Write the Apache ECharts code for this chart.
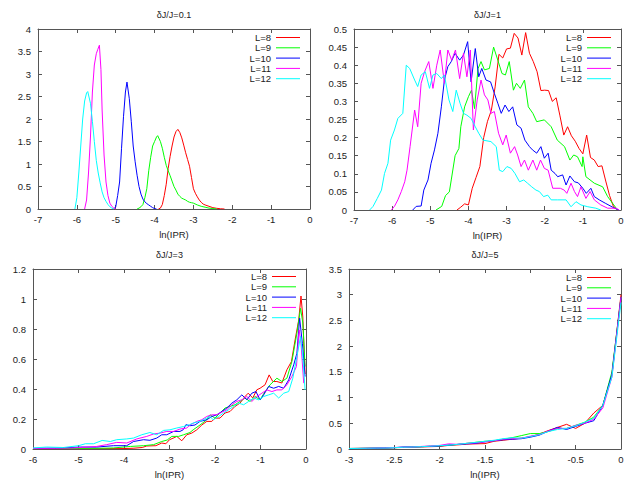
<!DOCTYPE html>
<html>
<head>
<meta charset="utf-8">
<script src="https://cdn.jsdelivr.net/npm/echarts@6.0.0/dist/echarts.min.js"></script>
<style>html,body{margin:0;padding:0;background:#fff}#c{width:636px;height:481px}</style>
</head>
<body>
<div id="c"></div>
<script>
// ---------- data ----------
const seriesNames = ['L=8', 'L=9', 'L=10', 'L=11', 'L=12'];
const panelTitles = ['δJ/J=0.1', 'δJ/J=1', 'δJ/J=3', 'δJ/J=5'];
const xAxisName = 'ln(IPR)';

// Panel 1: dJ/J = 0.1
const p1_L8 = [[-3.9,0],[-3.85,0.02],[-3.8,0.1],[-3.75,0.3],[-3.7,0.55],[-3.65,0.9],[-3.6,1.17],[-3.55,1.4],[-3.5,1.6],[-3.45,1.72],[-3.4,1.77],[-3.35,1.7],[-3.3,1.58],[-3.25,1.42],[-3.2,1.25],[-3.15,1.1],[-3.1,0.95],[-3.05,0.7],[-3.0,0.45],[-2.95,0.35],[-2.9,0.27],[-2.85,0.2],[-2.8,0.15],[-2.75,0.11],[-2.7,0.09],[-2.6,0.06],[-2.5,0.03],[-2.4,0.015],[-2.3,0.005],[-2.2,0]];
const p1_L9 = [[-4.45,0],[-4.4,0.02],[-4.35,0.05],[-4.3,0.1],[-4.25,0.25],[-4.2,0.45],[-4.15,0.85],[-4.1,1.15],[-4.05,1.4],[-4.0,1.5],[-3.95,1.6],[-3.92,1.63],[-3.85,1.5],[-3.8,1.35],[-3.75,1.15],[-3.7,0.97],[-3.65,0.85],[-3.6,0.74],[-3.55,0.62],[-3.5,0.5],[-3.45,0.42],[-3.4,0.33],[-3.35,0.28],[-3.3,0.24],[-3.25,0.22],[-3.2,0.2],[-3.15,0.17],[-3.1,0.15],[-3.05,0.14],[-3.0,0.13],[-2.9,0.09],[-2.8,0.06],[-2.7,0.04],[-2.6,0.02],[-2.5,0.01],[-2.4,0]];
const p1_L10 = [[-5.05,0],[-5.0,0.05],[-4.95,0.3],[-4.9,0.6],[-4.85,1.35],[-4.8,2.05],[-4.75,2.6],[-4.71,2.82],[-4.65,2.45],[-4.6,1.95],[-4.55,1.4],[-4.5,1.05],[-4.45,0.75],[-4.4,0.5],[-4.35,0.33],[-4.3,0.22],[-4.25,0.16],[-4.2,0.12],[-4.15,0.09],[-4.1,0.06],[-4.05,0.03],[-4.0,0.01],[-3.95,0]];
const p1_L11 = [[-5.8,0],[-5.75,0.2],[-5.7,0.8],[-5.65,1.6],[-5.6,2.6],[-5.55,3.2],[-5.5,3.45],[-5.46,3.55],[-5.42,3.64],[-5.38,3.1],[-5.35,2.2],[-5.3,1.2],[-5.25,0.6],[-5.2,0.3],[-5.15,0.13],[-5.1,0.06],[-5.05,0.02],[-5.0,0]];
const p1_L12 = [[-6.05,0],[-6.0,0.25],[-5.95,0.8],[-5.9,1.4],[-5.85,2.0],[-5.8,2.4],[-5.75,2.58],[-5.72,2.61],[-5.65,2.35],[-5.6,1.95],[-5.55,1.5],[-5.5,1.08],[-5.45,0.8],[-5.4,0.58],[-5.35,0.38],[-5.3,0.25],[-5.25,0.17],[-5.2,0.1],[-5.15,0.05],[-5.1,0.02],[-5.05,0]];

// Panel 2: dJ/J = 1
const p2_L8 = [[-4.3,0],[-4.2,0.008],[-4.1,0.017],[-4.0,0.014],[-3.9,0.06],[-3.8,0.09],[-3.7,0.12],[-3.6,0.2],[-3.5,0.245],[-3.4,0.275],[-3.3,0.34],[-3.2,0.43],[-3.1,0.42],[-3.0,0.445],[-2.9,0.447],[-2.8,0.488],[-2.7,0.475],[-2.6,0.428],[-2.5,0.49],[-2.4,0.433],[-2.3,0.41],[-2.2,0.382],[-2.1,0.33],[-2.0,0.331],[-1.9,0.33],[-1.8,0.3],[-1.7,0.31],[-1.6,0.26],[-1.5,0.207],[-1.4,0.23],[-1.3,0.205],[-1.2,0.19],[-1.1,0.17],[-1.0,0.155],[-0.9,0.207],[-0.8,0.145],[-0.7,0.138],[-0.6,0.12],[-0.5,0.122],[-0.4,0.08],[-0.3,0.04],[-0.2,0.01],[-0.08,0]];
const p2_L9 = [[-4.85,0],[-4.7,0.01],[-4.6,0.04],[-4.5,0.05],[-4.45,0.083],[-4.35,0.15],[-4.25,0.17],[-4.2,0.23],[-4.1,0.285],[-4.0,0.313],[-3.92,0.331],[-3.84,0.28],[-3.75,0.39],[-3.67,0.41],[-3.58,0.387],[-3.45,0.391],[-3.34,0.45],[-3.23,0.414],[-3.12,0.377],[-3.03,0.373],[-2.93,0.41],[-2.82,0.331],[-2.74,0.35],[-2.64,0.336],[-2.53,0.359],[-2.43,0.285],[-2.31,0.267],[-2.21,0.244],[-2.01,0.249],[-1.83,0.23],[-1.67,0.193],[-1.48,0.175],[-1.34,0.138],[-1.24,0.152],[-1.14,0.147],[-1.02,0.12],[-1.0,0.147],[-0.92,0.092],[-0.7,0.074],[-0.48,0.064],[-0.35,0.037],[-0.09,0]];
const p2_L10 = [[-5.46,0],[-5.37,0.01],[-5.24,0.011],[-5.17,0.055],[-5.06,0.083],[-4.98,0.129],[-4.89,0.166],[-4.8,0.212],[-4.71,0.285],[-4.63,0.359],[-4.54,0.396],[-4.45,0.41],[-4.35,0.433],[-4.23,0.414],[-4.13,0.428],[-4.02,0.465],[-3.93,0.354],[-3.82,0.446],[-3.73,0.368],[-3.65,0.391],[-3.54,0.359],[-3.42,0.354],[-3.32,0.322],[-3.23,0.295],[-3.14,0.267],[-3.04,0.29],[-2.94,0.272],[-2.84,0.285],[-2.73,0.235],[-2.62,0.226],[-2.52,0.193],[-2.4,0.175],[-2.32,0.166],[-2.21,0.157],[-2.1,0.175],[-2.01,0.143],[-1.91,0.157],[-1.83,0.11],[-1.73,0.101],[-1.66,0.092],[-1.53,0.097],[-1.44,0.069],[-1.34,0.094],[-1.22,0.078],[-1.12,0.075],[-1.0,0.06],[-0.91,0.046],[-0.79,0.06],[-0.7,0.037],[-0.57,0.028],[-0.4,0.018],[-0.17,0.005],[-0.05,0]];
const p2_L11 = [[-6.02,0],[-5.94,0.01],[-5.85,0.028],[-5.76,0.051],[-5.67,0.078],[-5.61,0.11],[-5.53,0.175],[-5.41,0.276],[-5.33,0.23],[-5.24,0.35],[-5.15,0.382],[-5.04,0.41],[-4.93,0.336],[-4.83,0.4],[-4.74,0.442],[-4.63,0.35],[-4.54,0.442],[-4.44,0.414],[-4.34,0.442],[-4.23,0.363],[-4.13,0.433],[-4.04,0.368],[-3.95,0.442],[-3.87,0.221],[-3.77,0.304],[-3.67,0.359],[-3.58,0.318],[-3.49,0.304],[-3.41,0.267],[-3.32,0.272],[-3.21,0.212],[-3.1,0.18],[-3.01,0.207],[-2.9,0.157],[-2.79,0.175],[-2.71,0.152],[-2.62,0.12],[-2.53,0.138],[-2.43,0.11],[-2.31,0.138],[-2.21,0.11],[-2.11,0.138],[-2.01,0.115],[-1.91,0.11],[-1.79,0.06],[-1.59,0.06],[-1.49,0.055],[-1.42,0.046],[-1.31,0.074],[-1.22,0.051],[-1.14,0.037],[-1.05,0.064],[-0.92,0.032],[-0.81,0.051],[-0.7,0.028],[-0.53,0.014],[-0.35,0.005],[-0.13,0.005],[-0.05,0]];
const p2_L12 = [[-6.59,0],[-6.5,0.01],[-6.39,0.032],[-6.28,0.055],[-6.2,0.101],[-6.11,0.129],[-6.04,0.193],[-5.94,0.221],[-5.85,0.253],[-5.72,0.267],[-5.63,0.4],[-5.54,0.391],[-5.41,0.359],[-5.33,0.341],[-5.24,0.373],[-5.13,0.382],[-5.02,0.336],[-4.93,0.373],[-4.83,0.377],[-4.71,0.363],[-4.63,0.373],[-4.51,0.304],[-4.41,0.272],[-4.32,0.331],[-4.22,0.295],[-4.13,0.267],[-4.04,0.262],[-3.93,0.253],[-3.82,0.23],[-3.73,0.212],[-3.62,0.193],[-3.41,0.189],[-3.27,0.175],[-3.19,0.11],[-3.1,0.106],[-2.99,0.12],[-2.88,0.115],[-2.78,0.101],[-2.66,0.078],[-2.55,0.083],[-2.45,0.074],[-2.34,0.064],[-2.23,0.055],[-2.14,0.051],[-2.03,0.037],[-1.92,0.041],[-1.83,0.028],[-1.66,0.028],[-1.44,0.028],[-1.31,0.009],[-1.18,0.023],[-1.05,0.014],[-0.87,0.009],[-0.66,0.005],[-0.53,0]];

// Panel 3: dJ/J = 3
const p3_L8 = [[-6,0.002],[-5,0.002],[-4,0.003],[-3.8,0.005],[-3.6,0.01],[-3.5,0.02],[-3.3,0.022],[-3.17,0.04],[-3.08,0.035],[-3.0,0.062],[-2.9,0.075],[-2.84,0.084],[-2.73,0.055],[-2.62,0.095],[-2.51,0.106],[-2.4,0.128],[-2.29,0.16],[-2.18,0.184],[-2.07,0.184],[-2.0,0.206],[-1.89,0.206],[-1.78,0.24],[-1.67,0.25],[-1.56,0.284],[-1.45,0.306],[-1.34,0.35],[-1.27,0.372],[-1.17,0.34],[-1.08,0.395],[-1.01,0.405],[-0.9,0.428],[-0.81,0.494],[-0.73,0.45],[-0.64,0.45],[-0.53,0.44],[-0.42,0.528],[-0.32,0.583],[-0.24,0.727],[-0.16,0.86],[-0.11,1.02],[-0.07,0.88],[-0.02,0.5]];
const p3_L9 = [[-6,0.003],[-5,0.004],[-4.5,0.005],[-4.23,0.007],[-3.86,0.017],[-3.57,0.022],[-3.35,0.029],[-3.17,0.05],[-3.05,0.06],[-2.95,0.084],[-2.8,0.084],[-2.69,0.095],[-2.55,0.11],[-2.48,0.128],[-2.33,0.16],[-2.2,0.19],[-2.11,0.228],[-2.0,0.206],[-1.89,0.24],[-1.78,0.273],[-1.67,0.284],[-1.56,0.295],[-1.45,0.317],[-1.34,0.34],[-1.23,0.317],[-1.12,0.35],[-1.01,0.328],[-0.9,0.383],[-0.79,0.428],[-0.64,0.472],[-0.53,0.45],[-0.42,0.472],[-0.31,0.583],[-0.2,0.772],[-0.12,0.938],[-0.07,0.84],[-0.02,0.55]];
const p3_L10 = [[-6,0.004],[-5.5,0.006],[-4.96,0.013],[-4.6,0.013],[-4.23,0.022],[-3.94,0.022],[-3.79,0.05],[-3.57,0.062],[-3.43,0.058],[-3.28,0.073],[-3.17,0.095],[-3.06,0.095],[-2.91,0.117],[-2.77,0.117],[-2.7,0.128],[-2.64,0.162],[-2.55,0.155],[-2.44,0.16],[-2.33,0.184],[-2.18,0.195],[-2.07,0.217],[-1.96,0.228],[-1.85,0.25],[-1.74,0.273],[-1.63,0.306],[-1.52,0.328],[-1.41,0.361],[-1.3,0.328],[-1.19,0.372],[-1.1,0.383],[-1.01,0.328],[-0.93,0.361],[-0.82,0.417],[-0.71,0.405],[-0.6,0.417],[-0.49,0.405],[-0.38,0.461],[-0.27,0.561],[-0.2,0.638],[-0.14,0.872],[-0.08,0.705],[-0.02,0.483]];
const p3_L11 = [[-6,0.004],[-5.5,0.005],[-5.11,0.007],[-4.6,0.017],[-4.38,0.029],[-4.16,0.044],[-3.94,0.04],[-3.72,0.067],[-3.5,0.084],[-3.35,0.1],[-3.21,0.106],[-3.06,0.117],[-2.91,0.117],[-2.77,0.133],[-2.62,0.14],[-2.55,0.16],[-2.4,0.184],[-2.29,0.195],[-2.18,0.217],[-2.07,0.228],[-1.96,0.228],[-1.85,0.245],[-1.74,0.262],[-1.63,0.295],[-1.52,0.317],[-1.41,0.328],[-1.3,0.35],[-1.19,0.317],[-1.08,0.35],[-0.97,0.372],[-0.86,0.394],[-0.75,0.383],[-0.64,0.394],[-0.53,0.394],[-0.42,0.428],[-0.31,0.483],[-0.21,0.55],[-0.15,0.794],[-0.11,0.705],[-0.05,0.439]];
const p3_L12 = [[-6.0,0.007],[-5.7,0.013],[-5.33,0.01],[-5.0,0.022],[-4.85,0.035],[-4.67,0.035],[-4.48,0.057],[-4.3,0.05],[-4.16,0.062],[-3.94,0.067],[-3.79,0.073],[-3.61,0.095],[-3.43,0.11],[-3.28,0.095],[-3.13,0.124],[-2.99,0.128],[-2.84,0.14],[-2.69,0.15],[-2.56,0.162],[-2.48,0.173],[-2.33,0.184],[-2.18,0.206],[-2.11,0.217],[-2.04,0.195],[-1.92,0.217],[-1.81,0.24],[-1.7,0.262],[-1.59,0.284],[-1.48,0.306],[-1.37,0.295],[-1.26,0.317],[-1.15,0.34],[-1.04,0.328],[-0.93,0.35],[-0.82,0.361],[-0.71,0.372],[-0.6,0.34],[-0.49,0.372],[-0.38,0.383],[-0.29,0.472],[-0.2,0.616],[-0.12,0.75],[-0.07,0.616],[-0.02,0.394]];

// Panel 4: dJ/J = 5 (x from -3.0 to 0.0 step 0.1)
const p4_x = [-3.0,-2.9,-2.8,-2.7,-2.6,-2.5,-2.4,-2.3,-2.2,-2.1,-2.0,-1.9,-1.8,-1.7,-1.6,-1.5,-1.4,-1.3,-1.2,-1.1,-1.0,-0.9,-0.8,-0.7,-0.6,-0.5,-0.4,-0.3,-0.2,-0.1,0.0];
const p4_L8  = [0.01,0.012,0.014,0.017,0.02,0.025,0.03,0.036,0.04,0.045,0.05,0.07,0.08,0.095,0.1,0.105,0.15,0.17,0.19,0.21,0.24,0.29,0.36,0.42,0.48,0.4,0.5,0.7,0.85,1.45,3.0];
const p4_L9  = [0.01,0.012,0.015,0.018,0.022,0.027,0.032,0.038,0.045,0.055,0.06,0.075,0.09,0.11,0.13,0.15,0.16,0.19,0.22,0.26,0.3,0.3,0.34,0.4,0.4,0.46,0.52,0.62,0.85,1.5,2.95];
const p4_L10 = [0.005,0.01,0.012,0.015,0.02,0.025,0.04,0.04,0.045,0.05,0.06,0.075,0.09,0.1,0.11,0.14,0.16,0.18,0.19,0.2,0.23,0.27,0.35,0.42,0.38,0.44,0.5,0.55,0.85,1.45,2.95];
const p4_L11 = [0.01,0.012,0.015,0.02,0.025,0.03,0.035,0.04,0.05,0.06,0.07,0.1,0.09,0.11,0.12,0.14,0.16,0.19,0.2,0.21,0.25,0.28,0.35,0.4,0.4,0.46,0.5,0.58,0.8,1.4,2.95];
const p4_L12 = [0.01,0.012,0.015,0.018,0.02,0.025,0.035,0.04,0.045,0.055,0.065,0.075,0.09,0.11,0.13,0.15,0.17,0.2,0.22,0.21,0.24,0.28,0.34,0.38,0.4,0.45,0.52,0.6,0.85,1.4,2.85];

// axis ranges per panel: [xmin, xmax, xinterval, ymin, ymax, yinterval]
const axisRanges = [
  [-7, 0, 1, 0, 4, 0.5],
  [-7, 0, 1, 0, 0.5, 0.05],
  [-6, 0, 1, 0, 1.2, 0.2],
  [-3, 0, 0.5, 0, 3.5, 0.5]
];

// ---------- build ----------
const zip = (xs, ys) => xs.map((x, i) => [x, ys[i]]);
const panelData = [
  [p1_L8, p1_L9, p1_L10, p1_L11, p1_L12],
  [p2_L8, p2_L9, p2_L10, p2_L11, p2_L12],
  [p3_L8, p3_L9, p3_L10, p3_L11, p3_L12],
  [zip(p4_x, p4_L8), zip(p4_x, p4_L9), zip(p4_x, p4_L10), zip(p4_x, p4_L11), zip(p4_x, p4_L12)]
];
const colors = ['#ff0000', '#00ff00', '#0000ff', '#ff00ff', '#00ffff'];
const FONT = 'Liberation Sans';
const FS = 9.5;
const BORDER = '#555';
const TXT = '#222';

const grids = [
  {left: 38, top: 29, width: 272, height: 180},
  {left: 354, top: 29, width: 267, height: 181},
  {left: 33, top: 269, width: 273, height: 180},
  {left: 349, top: 269, width: 272, height: 180}
];
const legendPos = [
  {right: 336, top: 32.5},
  {right: 25, top: 32.5},
  {right: 340, top: 271.5},
  {right: 25, top: 272.5}
];

const xAxes = [], yAxes = [], series = [], titles = [], legends = [];
grids.forEach((g, i) => {
  const [xmin, xmax, xint, ymin, ymax, yint] = axisRanges[i];
  const common = {
    type: 'value', gridIndex: i,
    axisLine: {show: true, onZero: false, lineStyle: {color: BORDER, width: 1}},
    axisTick: {show: true, inside: true, length: 4, lineStyle: {color: BORDER}},
    splitLine: {show: false}
  };
  xAxes.push(Object.assign({}, common, {
    position: 'bottom', min: xmin, max: xmax, interval: xint,
    name: xAxisName, nameLocation: 'middle', nameGap: 20,
    nameTextStyle: {color: TXT, fontSize: FS, fontFamily: FONT},
    axisLabel: {color: TXT, fontSize: FS, fontFamily: FONT, margin: 5}
  }));
  xAxes.push(Object.assign({}, common, {
    position: 'top', min: xmin, max: xmax, interval: xint,
    axisLabel: {show: false}
  }));
  yAxes.push(Object.assign({}, common, {
    position: 'left', min: ymin, max: ymax, interval: yint,
    axisLabel: {color: TXT, fontSize: FS, fontFamily: FONT, margin: 7}
  }));
  yAxes.push(Object.assign({}, common, {
    position: 'right', min: ymin, max: ymax, interval: yint,
    axisLabel: {show: false}
  }));
  panelData[i].forEach((d, k) => {
    series.push({
      type: 'line', name: seriesNames[k], data: d,
      xAxisIndex: 2 * i, yAxisIndex: 2 * i,
      showSymbol: false, symbol: 'none',
      lineStyle: {width: 1, color: colors[k]},
      itemStyle: {color: colors[k]},
      emphasis: {disabled: true}
    });
  });
  titles.push({
    text: panelTitles[i], left: g.left + g.width / 2, top: g.top - 19,
    textAlign: 'center', padding: 0,
    textStyle: {fontSize: 9, fontWeight: 'normal', color: TXT, fontFamily: FONT}
  });
  legends.push(Object.assign({
    data: seriesNames, orient: 'vertical', align: 'right',
    icon: 'rect', itemWidth: 24, itemHeight: 1, itemGap: 0.3, padding: 0,
    itemStyle: {borderWidth: 0},
    textStyle: {fontSize: FS, lineHeight: 9, color: TXT, fontFamily: FONT},
    selectedMode: false
  }, legendPos[i]));
});

const chart = echarts.init(document.getElementById('c'), null, {renderer: 'svg'});
chart.setOption({
  animation: false,
  backgroundColor: '#fff',
  color: colors,
  textStyle: {fontFamily: FONT},
  title: titles,
  legend: legends,
  grid: grids.map(g => Object.assign({outerBoundsMode: 'none', containLabel: false}, g)),
  xAxis: xAxes,
  yAxis: yAxes,
  series: series
});
</script>
</body>
</html>
